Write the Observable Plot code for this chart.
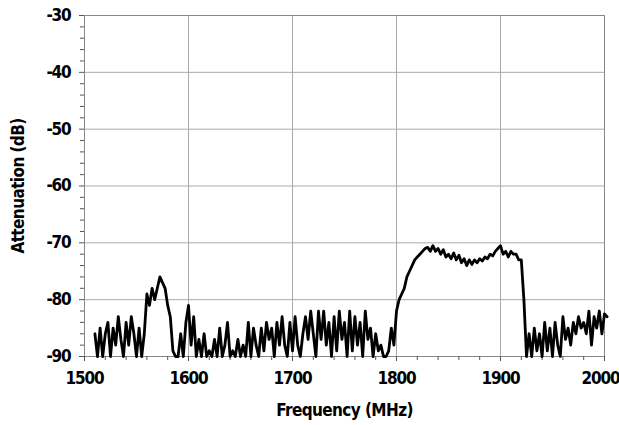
<!DOCTYPE html>
<html>
<head>
<meta charset="utf-8">
<script src="https://cdn.jsdelivr.net/npm/d3@7"></script>
<script src="https://cdn.jsdelivr.net/npm/@observablehq/plot@0.6"></script>
<style>
  html, body { margin: 0; padding: 0; background: #fff; }
  #chart svg { display: block; }
  #chart svg text { font-stretch: condensed; }
  #chart svg g[aria-label='x-axis tick label'] text,
  #chart svg g[aria-label='y-axis tick label'] text { letter-spacing: -1.2px; }
  #chart svg g[aria-label='x-axis label'] text,
  #chart svg g[aria-label='y-axis label'] text { letter-spacing: -0.6px; }
</style>
</head>
<body>
<div id="chart"></div>
<script>
const freq = [
  1510, 1512.5, 1515, 1517.5, 1520, 1522.5, 1525, 1527.5, 1530, 1532.5, 1535, 1537.5, 1540, 1542.5, 1545, 1547.5,
  1550, 1552.5, 1555, 1557.5, 1560, 1562.5, 1565, 1567.5, 1570, 1572.5, 1575, 1577.5, 1580, 1582.5, 1585, 1587.5,
  1590, 1592.5, 1595, 1597.5, 1600, 1602.5, 1605, 1607.5, 1610, 1612.5, 1615, 1617.5, 1620, 1622.5, 1625, 1627.5,
  1630, 1632.5, 1635, 1637.5, 1640, 1642.5, 1645, 1647.5, 1650, 1652.5, 1655, 1657.5, 1660, 1662.5, 1665, 1667.5,
  1670, 1672.5, 1675, 1677.5, 1680, 1682.5, 1685, 1687.5, 1690, 1692.5, 1695, 1697.5, 1700, 1702.5, 1705, 1707.5,
  1710, 1712.5, 1715, 1717.5, 1720, 1722.5, 1725, 1727.5, 1730, 1732.5, 1735, 1737.5, 1740, 1742.5, 1745, 1747.5,
  1750, 1752.5, 1755, 1757.5, 1760, 1762.5, 1765, 1767.5, 1770, 1772.5, 1775, 1777.5, 1780, 1782.5, 1785, 1787.5,
  1790, 1792.5, 1795, 1797.5, 1800, 1802.5, 1805, 1807.5, 1810, 1812.5, 1815, 1817.5, 1820, 1822.5, 1825, 1827.5,
  1830, 1832.5, 1835, 1837.5, 1840, 1842.5, 1845, 1847.5, 1850, 1852.5, 1855, 1857.5, 1860, 1862.5, 1865, 1867.5,
  1870, 1872.5, 1875, 1877.5, 1880, 1882.5, 1885, 1887.5, 1890, 1892.5, 1895, 1897.5, 1900, 1902.5, 1905, 1907.5,
  1910, 1912.5, 1915, 1917.5, 1920, 1922.5, 1925, 1927.5, 1930, 1932.5, 1935, 1937.5, 1940, 1942.5, 1945, 1947.5,
  1950, 1952.5, 1955, 1957.5, 1960, 1962.5, 1965, 1967.5, 1970, 1972.5, 1975, 1977.5, 1980, 1982.5, 1985, 1987.5,
  1990, 1992.5, 1995, 1997.5, 2000, 2002.5
];
const attenuation = [
  -86, -90, -85, -90, -86, -84, -90, -85, -88, -83, -87, -90, -84, -88, -83, -86,
  -90, -85, -90, -86, -79, -81, -78, -80, -78, -76, -77, -78, -81, -83, -89, -90,
  -90, -86, -90, -84, -81, -88, -83, -90, -87, -90, -86, -90, -89, -90, -87, -90,
  -85, -90, -88, -84, -90, -89, -90, -87, -90, -88, -90, -84, -90, -85, -88, -90,
  -85, -89, -84, -87, -85, -90, -84, -88, -83, -88, -90, -84, -89, -83, -88, -90,
  -86, -83, -87, -82, -86, -90, -82, -87, -82, -88, -84, -90, -83, -89, -82, -87,
  -84, -90, -82, -89, -83, -88, -84, -90, -82, -87, -85, -90, -86, -89, -88, -90,
  -90, -89, -85, -88, -82, -80, -79, -78, -76, -75, -74, -73, -72.5, -72, -71.5, -71,
  -70.8, -71.5, -70.5, -71.5, -71, -72, -71.2, -72.5, -72, -72.8, -71.8, -73, -72.2, -73.5, -72.8, -74,
  -73, -73.8, -73, -73.5, -72.8, -73.2, -72.5, -72.8, -72, -72.3, -71.5, -71, -70.5, -72, -71.5, -72.5,
  -71.5, -72, -72, -73, -73, -80, -90, -86, -90, -85, -89, -86, -90, -84, -89, -85,
  -90, -84, -88, -90, -83, -87, -85, -88, -84, -86, -83, -85, -84, -86, -82, -88,
  -83, -85, -82, -86, -82.5, -83
];
const xTicks = [1500, 1600, 1700, 1800, 1900, 2000];
const xMinorTicks = [1520, 1540, 1560, 1580, 1620, 1640, 1660, 1680, 1720, 1740, 1760, 1780, 1820, 1840, 1860, 1880, 1920, 1940, 1960, 1980];
const yTicks = [-90, -80, -70, -60, -50, -40, -30];
const yMinorTicks = [-88, -86, -84, -82, -78, -76, -74, -72, -68, -66, -64, -62, -58, -56, -54, -52, -48, -46, -44, -42, -38, -36, -34, -32];

const data = freq.map((f, i) => ({f, a: attenuation[i]}));
const font = "'DejaVu Sans Condensed', 'DejaVu Sans', sans-serif";

const chart = Plot.plot({
  width: 619,
  height: 425,
  marginLeft: 84,
  marginRight: 15,
  marginTop: 15,
  marginBottom: 69,
  style: {fontFamily: font, fontWeight: "bold", color: "#000", background: "#fff"},
  x: {domain: [1500, 2000]},
  y: {domain: [-90, -30]},
  marks: [
    Plot.gridX(xTicks, {stroke: "#aaa", strokeOpacity: 1, strokeWidth: 1}),
    Plot.gridY(yTicks, {stroke: "#aaa", strokeOpacity: 1, strokeWidth: 1}),
    Plot.frame({stroke: "#888", strokeWidth: 1}),
    Plot.axisX(xMinorTicks, {tickSize: 4, text: null, label: null, stroke: "#555"}),
    Plot.axisY(yMinorTicks, {tickSize: 4, text: null, label: null, stroke: "#555"}),
    Plot.axisX(xTicks, {
      tickSize: 5, tickPadding: 10, stroke: "#555", fontSize: 17,
      tickFormat: d => String(d),
      label: "Frequency (MHz)", labelAnchor: "center", labelArrow: "none", labelOffset: 59
    }),
    Plot.axisY(yTicks, {
      tickSize: 5, tickPadding: 9, stroke: "#555", fontSize: 17,
      tickFormat: d => String(d),
      label: "Attenuation (dB)", labelAnchor: "center", labelArrow: "none", labelOffset: 73
    }),
    Plot.line(data, {x: "f", y: "a", stroke: "#000", strokeWidth: 2.8, strokeLinejoin: "round"})
  ]
});
chart.querySelectorAll("[aria-label='x-axis label'] text, [aria-label='y-axis label'] text").forEach(t => t.setAttribute("font-size", 17));
chart.querySelectorAll("g[aria-label='x-axis tick label'] text").forEach(t => {
  if (t.textContent === "2000") t.setAttribute("dx", "-4");
});
document.getElementById("chart").appendChild(chart);
</script>
</body>
</html>
